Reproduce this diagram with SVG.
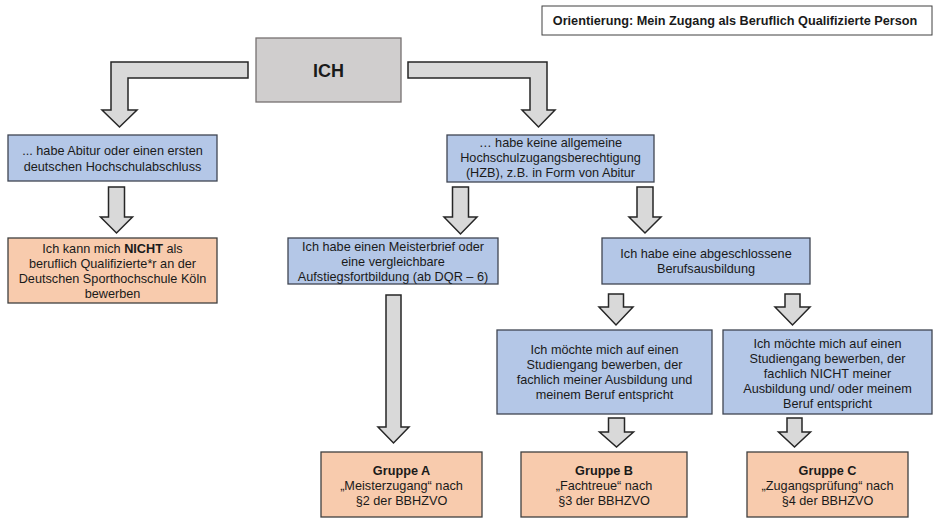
<svg xmlns="http://www.w3.org/2000/svg" width="940" height="526" viewBox="0 0 940 526">
<style>
text{font-family:"Liberation Sans",Arial,sans-serif;font-size:12.7px;fill:#1a1a1a;text-anchor:middle}
.b{font-weight:bold}
.blue{fill:#b4c7e7;stroke:#3f4652;stroke-width:1.3}
.org{fill:#f8cbad;stroke:#3f3f3f;stroke-width:1.3}
.arr{fill:#d9d9d9;stroke:#262626;stroke-width:1.5;stroke-linejoin:miter}
</style>
<rect x="0" y="0" width="940" height="526" fill="#ffffff"/>
<g id="title">
<rect x="542" y="6" width="390" height="29" fill="#ffffff" stroke="#404040" stroke-width="1"/>
<text x="735" y="25" class="b">Orientierung: Mein Zugang als Beruflich Qualifizierte Person</text>
</g>
<g id="connectors">
<path class="arr" d="M248,62 L111,62 L111,110 L102,110 L119.5,127 L137,110 L128,110 L128,78 L248,78 Z"/>
<path class="arr" d="M408,62 L547,62 L547,110 L555,110 L538.5,127 L522,110 L530,110 L530,78 L408,78 Z"/>
<path class="arr" d="M108.5,187 L124.5,187 L124.5,217 L132.5,217 L116.5,233 L100.5,217 L108.5,217 Z"/>
<path class="arr" d="M452.5,187 L468.5,187 L468.5,217 L477,217 L460.5,234 L444,217 L452.5,217 Z"/>
<path class="arr" d="M637,187 L653,187 L653,217 L661,217 L645,233 L629,217 L637,217 Z"/>
<path class="arr" d="M386,295 L401,295 L401,427 L409,427 L393.5,443 L378,427 L386,427 Z"/>
<path class="arr" d="M608.5,294 L623.5,294 L623.5,307 L633,307 L616,325 L599,307 L608.5,307 Z"/>
<path class="arr" d="M785,294 L800,294 L800,307 L810,307 L792.5,325 L775,307 L785,307 Z"/>
<path class="arr" d="M608.5,418 L624.5,418 L624.5,432 L633.5,432 L616.5,447 L599.5,432 L608.5,432 Z"/>
<path class="arr" d="M787,418 L802,418 L802,432 L810.5,432 L794.5,447 L778.5,432 L787,432 Z"/>
</g>
<g id="ich">
<rect x="256" y="38" width="145" height="64" fill="#d0cece" stroke="#767171" stroke-width="1.3"/>
<text x="328.5" y="77" class="b" style="font-size:18px">ICH</text>
</g>
<g id="abitur">
<rect class="blue" x="8" y="135" width="209" height="46"/>
<text x="112.5" y="155">... habe Abitur oder einen ersten</text>
<text x="112.5" y="170.5">deutschen Hochschulabschluss</text>
</g>
<g id="nicht">
<rect class="org" x="8" y="238" width="209" height="65"/>
<text x="112.5" y="252.5">Ich kann mich <tspan class="b">NICHT</tspan> als</text>
<text x="112.5" y="267.5">beruflich Qualifizierte*r an der</text>
<text x="112.5" y="282.5">Deutschen Sporthochschule Köln</text>
<text x="112.5" y="297.5">bewerben</text>
</g>
<g id="keine">
<rect class="blue" x="447" y="135" width="207" height="47"/>
<text x="550.5" y="147">… habe keine allgemeine</text>
<text x="550.5" y="162">Hochschulzugangsberechtigung</text>
<text x="550.5" y="177">(HZB), z.B. in Form von Abitur</text>
</g>
<g id="meister">
<rect class="blue" x="288" y="238" width="210" height="46"/>
<text x="393" y="251">Ich habe einen Meisterbrief oder</text>
<text x="393" y="266">eine vergleichbare</text>
<text x="393" y="281">Aufstiegsfortbildung (ab DQR – 6)</text>
</g>
<g id="beruf">
<rect class="blue" x="602" y="238" width="208" height="46"/>
<text x="706" y="258">Ich habe eine abgeschlossene</text>
<text x="706" y="273">Berufsausbildung</text>
</g>
<g id="fachlich">
<rect class="blue" x="497" y="330" width="215" height="84"/>
<text x="604.5" y="354">Ich möchte mich auf einen</text>
<text x="604.5" y="369">Studiengang bewerben, der</text>
<text x="604.5" y="384">fachlich meiner Ausbildung und</text>
<text x="604.5" y="399">meinem Beruf entspricht</text>
</g>
<g id="nichtfachlich">
<rect class="blue" x="723" y="330" width="209" height="84"/>
<text x="827.5" y="347.5">Ich möchte mich auf einen</text>
<text x="827.5" y="362.5">Studiengang bewerben, der</text>
<text x="827.5" y="377.5">fachlich NICHT meiner</text>
<text x="827.5" y="392.5">Ausbildung und/ oder meinem</text>
<text x="827.5" y="407.5">Beruf entspricht</text>
</g>
<g id="gruppeA">
<rect class="org" x="321" y="452" width="161" height="65"/>
<text x="401.5" y="475" class="b">Gruppe A</text>
<text x="401.5" y="490">„Meisterzugang“ nach</text>
<text x="401.5" y="505">§2 der BBHZVO</text>
</g>
<g id="gruppeB">
<rect class="org" x="521" y="452" width="166" height="65"/>
<text x="604" y="475" class="b">Gruppe B</text>
<text x="604" y="490">„Fachtreue“ nach</text>
<text x="604" y="505">§3 der BBHZVO</text>
</g>
<g id="gruppeC">
<rect class="org" x="747" y="452" width="161" height="65"/>
<text x="827.5" y="475" class="b">Gruppe C</text>
<text x="827.5" y="490">„Zugangsprüfung“ nach</text>
<text x="827.5" y="505">§4 der BBHZVO</text>
</g>
</svg>
